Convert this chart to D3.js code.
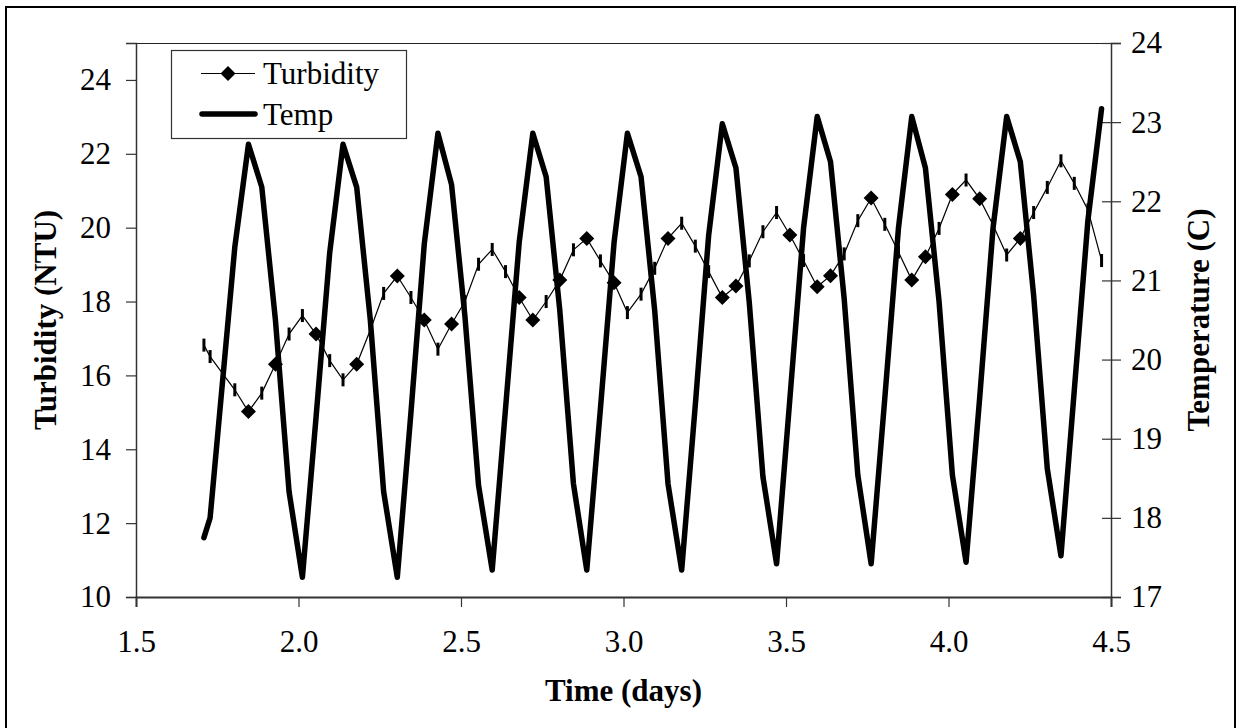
<!DOCTYPE html>
<html>
<head>
<meta charset="utf-8">
<script src="https://cdn.jsdelivr.net/npm/d3@7"></script>
<style>
  html, body { margin: 0; padding: 0; background: #fff; }
  svg { display: block; }
</style>
</head>
<body>
<svg id="chart" width="1243" height="728"></svg>
<script>
// ---------------- data ----------------
const timeDays = [1.709, 1.728, 1.804, 1.846, 1.887, 1.929, 1.971, 2.012, 2.054, 2.096, 2.137, 2.179, 2.221, 2.262, 2.304, 2.346, 2.387, 2.429, 2.471, 2.512, 2.554, 2.596, 2.637, 2.679, 2.721, 2.762, 2.804, 2.846, 2.887, 2.929, 2.971, 3.012, 3.054, 3.096, 3.137, 3.179, 3.221, 3.262, 3.304, 3.346, 3.387, 3.429, 3.471, 3.512, 3.554, 3.596, 3.637, 3.679, 3.721, 3.762, 3.804, 3.846, 3.887, 3.929, 3.971, 4.012, 4.054, 4.096, 4.137, 4.179, 4.221, 4.262, 4.304, 4.346, 4.387, 4.429, 4.471];
const turbidity = [16.82, 16.51, 15.61, 15.02, 15.52, 16.30, 17.12, 17.62, 17.12, 16.40, 15.88, 16.30, 17.23, 18.22, 18.69, 18.11, 17.50, 16.71, 17.39, 18.00, 19.01, 19.41, 18.81, 18.11, 17.50, 18.00, 18.58, 19.40, 19.71, 19.10, 18.51, 17.70, 18.20, 18.90, 19.71, 20.12, 19.50, 18.81, 18.11, 18.42, 19.10, 19.89, 20.41, 19.80, 19.11, 18.40, 18.70, 19.29, 20.19, 20.80, 20.09, 19.34, 18.58, 19.21, 19.98, 20.90, 21.29, 20.78, 20.07, 19.26, 19.71, 20.41, 21.09, 21.81, 21.20, 20.48, 19.11];
const temperature = [17.75, 18.00, 21.42, 22.72, 22.18, 20.50, 18.33, 17.25, 19.27, 21.35, 22.72, 22.18, 20.50, 18.33, 17.25, 19.33, 21.46, 22.86, 22.21, 20.55, 18.41, 17.34, 19.38, 21.48, 22.86, 22.31, 20.62, 18.43, 17.34, 19.38, 21.48, 22.86, 22.31, 20.62, 18.43, 17.34, 19.43, 21.57, 22.98, 22.42, 20.72, 18.52, 17.42, 19.51, 21.66, 23.07, 22.50, 20.77, 18.54, 17.42, 19.51, 21.66, 23.07, 22.42, 20.73, 18.54, 17.44, 19.52, 21.66, 23.07, 22.50, 20.81, 18.62, 17.52, 19.61, 21.76, 23.17];
// indices of turbidity points drawn with a full diamond marker (others appear as thin bars)
const diamondPoints = [3, 5, 8, 11, 14, 16, 18, 23, 24, 26, 28, 30, 34, 38, 39, 43, 45, 46, 49, 52, 53, 55, 57, 60];
const xTicks = [1.5, 2.0, 2.5, 3.0, 3.5, 4.0, 4.5];
const yLeftTicks = [10, 12, 14, 16, 18, 20, 22, 24];
const yRightTicks = [17, 18, 19, 20, 21, 22, 23, 24];
const seriesNames = ["Turbidity", "Temp"];
const xTitle = "Time (days)";
const yLeftTitle = "Turbidity (NTU)";
const yRightTitle = "Temperature (C)";

// ---------------- layout ----------------
const FONT = '"Liberation Serif", "Times New Roman", Tinos, serif';
const FS = "31px";
const plot = { left: 136, right: 1111, top: 43, bottom: 597 };
const svg = d3.select("#chart");

const x = d3.scaleLinear().domain([1.5, 4.5]).range([plot.left, plot.right]);
const yL = d3.scaleLinear().domain([10, 25]).range([plot.bottom, plot.top]);
const yR = d3.scaleLinear().domain([17, 24]).range([plot.bottom, plot.top]);

function styleText(sel, bold) {
  return sel.style("font-family", FONT).style("font-size", FS)
    .style("font-weight", bold ? "bold" : "normal").attr("fill", "#000");
}

// outer frame
svg.append("rect")
  .attr("x", 6).attr("y", 7).attr("width", 1229).attr("height", 740)
  .attr("fill", "#fff").attr("stroke", "#000").attr("stroke-width", 2);

// plot area top border
svg.append("line")
  .attr("x1", plot.left).attr("x2", plot.right)
  .attr("y1", plot.top + 0.5).attr("y2", plot.top + 0.5)
  .attr("stroke", "#222").attr("stroke-width", 1);

// axes
const gx = svg.append("g")
  .attr("transform", `translate(0,${plot.bottom})`)
  .call(d3.axisBottom(x).tickValues(xTicks).tickFormat(d3.format(".1f")).tickSize(10).tickPadding(23));
const gyl = svg.append("g")
  .attr("transform", `translate(${plot.left},0)`)
  .call(d3.axisLeft(yL).tickValues(yLeftTicks).tickFormat(d3.format("d")).tickSize(10).tickPadding(15));
const gyr = svg.append("g")
  .attr("transform", `translate(${plot.right},0)`)
  .call(d3.axisRight(yR).tickValues(yRightTicks).tickFormat(d3.format("d")).tickSize(10).tickPadding(10));
gyr.selectAll(".tick line").attr("x1", -9);

[gx, gyl, gyr].forEach(g => {
  g.attr("font-family", null).attr("font-size", null);
  g.selectAll(".domain").attr("stroke", "#333").attr("stroke-width", 1.5);
  g.selectAll(".tick line").attr("stroke", "#333").attr("stroke-width", 1.2);
  styleText(g.selectAll(".tick text"), false);
});
gx.select(".domain").attr("stroke-width", 2);

// axis titles
styleText(svg.append("text")
  .attr("x", (plot.left + plot.right) / 2).attr("y", 701)
  .attr("text-anchor", "middle"), true)
  .text(xTitle);
styleText(svg.append("text")
  .attr("transform", `translate(56,${(plot.top + plot.bottom) / 2}) rotate(-90)`)
  .attr("text-anchor", "middle"), true)
  .text(yLeftTitle);
styleText(svg.append("text")
  .attr("transform", `translate(1209,${(plot.top + plot.bottom) / 2}) rotate(-90)`)
  .attr("text-anchor", "middle"), true)
  .text(yRightTitle);

// ---------------- series ----------------
const turbData = timeDays.map((t, i) => ({ t, v: turbidity[i], i }));
const tempData = timeDays.map((t, i) => ({ t, v: temperature[i] }));

svg.append("path")
  .datum(turbData)
  .attr("fill", "none").attr("stroke", "#000").attr("stroke-width", 1.2)
  .attr("d", d3.line().x(d => x(d.t)).y(d => yL(d.v)));

const diamondSet = new Set(diamondPoints);
const diamondPath = "M0,-7.5L7.5,0L0,7.5L-7.5,0Z";
svg.append("g").selectAll("g")
  .data(turbData).join("g")
  .attr("transform", d => `translate(${x(d.t)},${yL(d.v)})`)
  .each(function(d) {
    const g = d3.select(this);
    if (diamondSet.has(d.i)) {
      g.append("path").attr("d", diamondPath).attr("fill", "#000");
    } else {
      g.append("rect").attr("x", -1.5).attr("y", -6.5).attr("width", 3).attr("height", 13).attr("fill", "#000");
    }
  });

svg.append("path")
  .datum(tempData)
  .attr("fill", "none").attr("stroke", "#000").attr("stroke-width", 5.5)
  .attr("stroke-linejoin", "round").attr("stroke-linecap", "round")
  .attr("d", d3.line().x(d => x(d.t)).y(d => yR(d.v)));

// ---------------- legend ----------------
const lg = svg.append("g");
lg.append("rect")
  .attr("x", 171.5).attr("y", 50.5).attr("width", 235).attr("height", 88)
  .attr("fill", "#fff").attr("stroke", "#333").attr("stroke-width", 1.2);
lg.append("line").attr("x1", 201).attr("x2", 255).attr("y1", 73.5).attr("y2", 73.5)
  .attr("stroke", "#000").attr("stroke-width", 1.2);
lg.append("path").attr("d", diamondPath).attr("transform", "translate(228,73.5)").attr("fill", "#000");
styleText(lg.append("text").attr("x", 263).attr("y", 84), false).text(seriesNames[0]);
lg.append("line").attr("x1", 202).attr("x2", 255).attr("y1", 114).attr("y2", 114)
  .attr("stroke", "#000").attr("stroke-width", 5.5).attr("stroke-linecap", "round");
styleText(lg.append("text").attr("x", 263).attr("y", 125), false).text(seriesNames[1]);
</script>
</body>
</html>
